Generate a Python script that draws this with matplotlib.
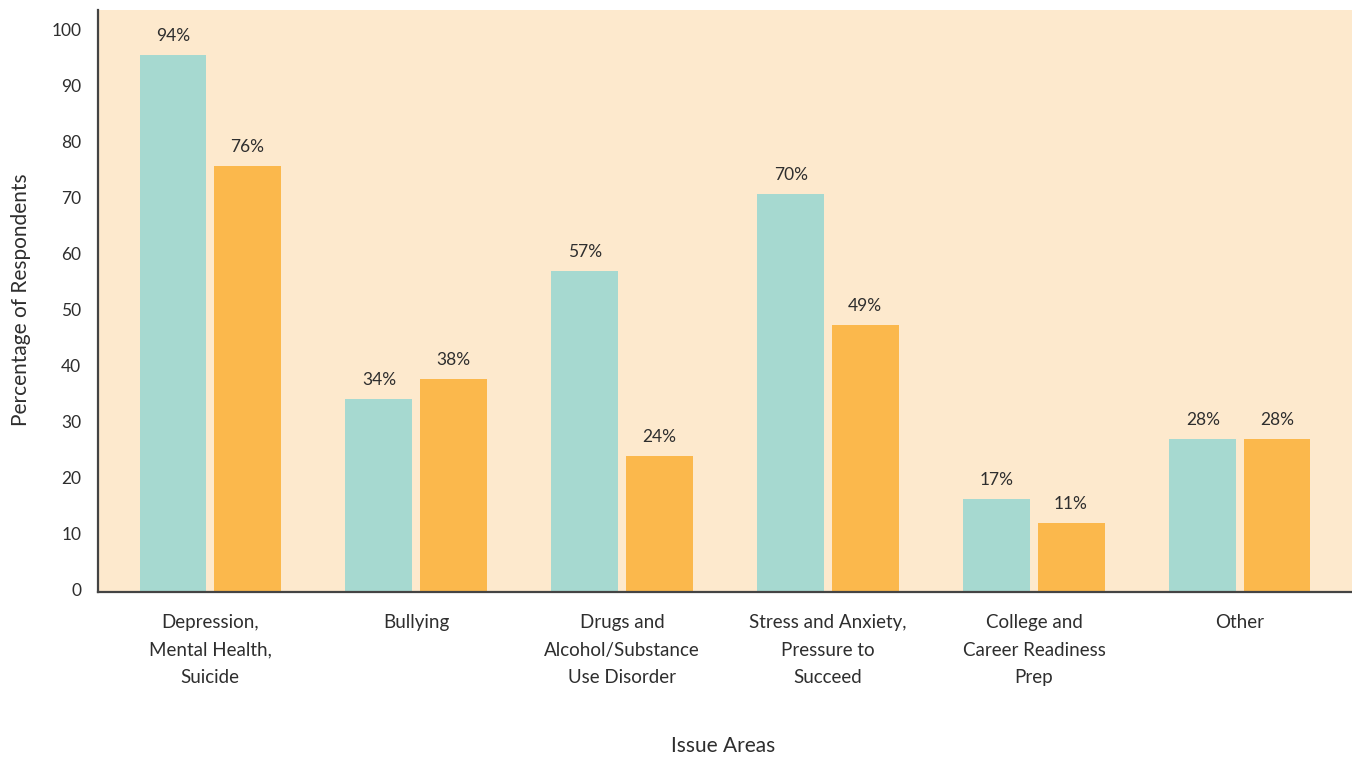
import numpy as np
import matplotlib
matplotlib.use("Agg")
import matplotlib.pyplot as plt
import matplotlib.transforms as mtransforms

plt.rcParams["font.family"] = ["Lato", "DejaVu Sans"]

categories = [
    "Depression,\nMental Health,\nSuicide",
    "Bullying",
    "Drugs and\nAlcohol/Substance\nUse Disorder",
    "Stress and Anxiety,\nPressure to\nSucceed",
    "College and\nCareer Readiness\nPrep",
    "Other",
]
# bar heights as drawn in the reference (they differ slightly from the labels)
teal_vals = [96, 34.5, 57.3, 71.2, 16.6, 27.3]
orange_vals = [76.2, 38, 24.3, 47.7, 12.4, 27.3]
teal_labels = ["94%", "34%", "57%", "70%", "17%", "28%"]
orange_labels = ["76%", "38%", "24%", "49%", "11%", "28%"]

teal = "#a6d9d0"
orange = "#fbb84c"
bg = "#fde9cd"
txt = "#2e2e2e"

fig = plt.figure(figsize=(13.52, 7.58), dpi=100)
ax = fig.add_axes([98 / 1352, 166 / 758, 1 - 98 / 1352, 582 / 758])
ax.set_facecolor(bg)

x = np.arange(len(categories))
w = 0.325
off = 0.18
b1 = ax.bar(x - off, teal_vals, w, color=teal, zorder=2)
b2 = ax.bar(x + off, orange_vals, w, color=orange, zorder=2)

for bars, labs in ((b1, teal_labels), (b2, orange_labels)):
    for rect, lab in zip(bars, labs):
        ax.annotate(lab, (rect.get_x() + rect.get_width() / 2, rect.get_height()),
                    xytext=(0, 11), textcoords="offset pixels",
                    ha="center", va="bottom", fontsize=12.5, color=txt)

ax.set_xlim(-0.544, 5.544)
ax.set_ylim(0, 104)
ax.set_yticks(range(0, 101, 10))
ax.set_xticks(x)
ax.set_xticklabels(categories, fontsize=13.5, color=txt, linespacing=1.75)
ax.tick_params(axis="y", length=0, pad=12, labelsize=12.5, labelcolor=txt)
ax.tick_params(axis="x", length=0, pad=16)

# nudge y tick labels up a little, as in the reference
shift = mtransforms.ScaledTranslation(0, 3 / 100, fig.dpi_scale_trans)
for lab in ax.get_yticklabels():
    lab.set_transform(lab.get_transform() + shift)

for s in ("top", "right"):
    ax.spines[s].set_visible(False)
for s in ("left", "bottom"):
    ax.spines[s].set_color("#444444")
    ax.spines[s].set_linewidth(1.6)
    ax.spines[s].set_zorder(3)

fig.text(723 / 1352, 1 - 746 / 758, "Issue Areas", ha="center", va="center",
         fontsize=15, color=txt)
fig.text(21 / 1352, 1 - 300 / 758, "Percentage of Respondents", ha="center",
         va="center", rotation=90, fontsize=15, color=txt)

fig.savefig("out.png", dpi=100, facecolor="white")
